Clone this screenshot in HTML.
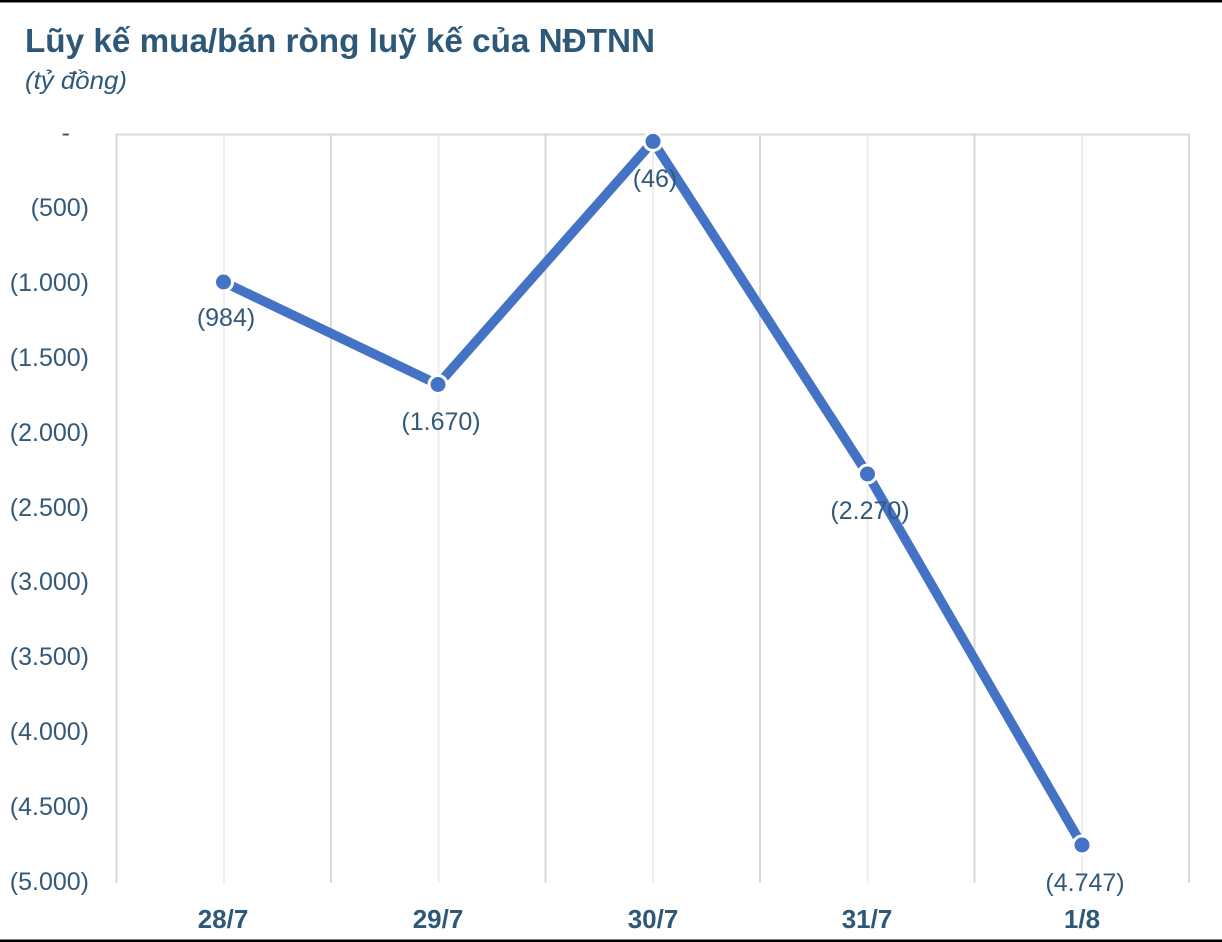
<!DOCTYPE html>
<html>
<head>
<meta charset="utf-8">
<style>
  html, body { margin: 0; padding: 0; background: #ffffff; }
  body { width: 1222px; height: 942px; overflow: hidden; }
  svg { display: block; }
  text { font-family: "Liberation Sans", "DejaVu Sans", sans-serif; }
</style>
</head>
<body>
<svg width="1222" height="942" viewBox="0 0 1222 942" xmlns="http://www.w3.org/2000/svg">
  <rect x="0" y="0" width="1222" height="942" fill="#ffffff"/>
  <rect x="0" y="0" width="1222" height="2.5" fill="#000000"/>
  <rect x="0" y="939.5" width="1222" height="2.5" fill="#000000"/>

  <text x="25" y="52" font-size="33" font-weight="bold" fill="#2d5878" textLength="630" lengthAdjust="spacingAndGlyphs">Lũy kế mua/bán ròng luỹ kế của NĐTNN</text>
  <text x="25" y="89" font-size="25" font-style="italic" fill="#2d5878" textLength="102" lengthAdjust="spacingAndGlyphs">(tỷ đồng)</text>

  <g stroke="#ededed" stroke-width="2">
    <line x1="224" y1="134.5" x2="224" y2="883"/>
    <line x1="438.5" y1="134.5" x2="438.5" y2="883"/>
    <line x1="653" y1="134.5" x2="653" y2="883"/>
    <line x1="867.5" y1="134.5" x2="867.5" y2="883"/>
    <line x1="1082" y1="134.5" x2="1082" y2="883"/>
  </g>
  <g stroke="#d9d9d9" stroke-width="2">
    <line x1="116.5" y1="134.5" x2="116.5" y2="883"/>
    <line x1="331" y1="134.5" x2="331" y2="883"/>
    <line x1="545.5" y1="134.5" x2="545.5" y2="883"/>
    <line x1="760" y1="134.5" x2="760" y2="883"/>
    <line x1="974.5" y1="134.5" x2="974.5" y2="883"/>
    <line x1="1189" y1="134.5" x2="1189" y2="883"/>
    <line x1="115.5" y1="134.5" x2="1190" y2="134.5"/>
  </g>

  <g font-size="25" fill="#33597a" text-anchor="end">
    <text x="70" y="141">-</text>
    <text x="89" y="216">(500)</text>
    <text x="89" y="291">(1.000)</text>
    <text x="89" y="366">(1.500)</text>
    <text x="89" y="441">(2.000)</text>
    <text x="89" y="516">(2.500)</text>
    <text x="89" y="590">(3.000)</text>
    <text x="89" y="665">(3.500)</text>
    <text x="89" y="740">(4.000)</text>
    <text x="89" y="815">(4.500)</text>
    <text x="89" y="890">(5.000)</text>
  </g>

  <g font-size="26" font-weight="bold" fill="#2d5878" text-anchor="middle">
    <text x="223" y="928">28/7</text>
    <text x="438" y="928">29/7</text>
    <text x="653" y="928">30/7</text>
    <text x="867" y="928">31/7</text>
    <text x="1082" y="928">1/8</text>
  </g>

  <polyline points="223.5,282 438,384.5 653,141.4 867.5,474 1082,845" fill="none" stroke="#4472c4" stroke-width="9.5" stroke-linejoin="round" stroke-linecap="round"/>
  <g fill="#4472c4" stroke="#ffffff" stroke-width="3">
    <circle cx="223.5" cy="282" r="9"/>
    <circle cx="438" cy="384.5" r="9"/>
    <circle cx="653" cy="141.4" r="9"/>
    <circle cx="867.5" cy="474" r="9"/>
    <circle cx="1082" cy="845" r="9"/>
  </g>

  <g font-size="25" fill="#33597a" text-anchor="middle">
    <text x="226" y="326">(984)</text>
    <text x="441" y="430">(1.670)</text>
    <text x="655" y="187">(46)</text>
    <text x="870" y="519">(2.270)</text>
    <text x="1085" y="891">(4.747)</text>
  </g>
</svg>
</body>
</html>
